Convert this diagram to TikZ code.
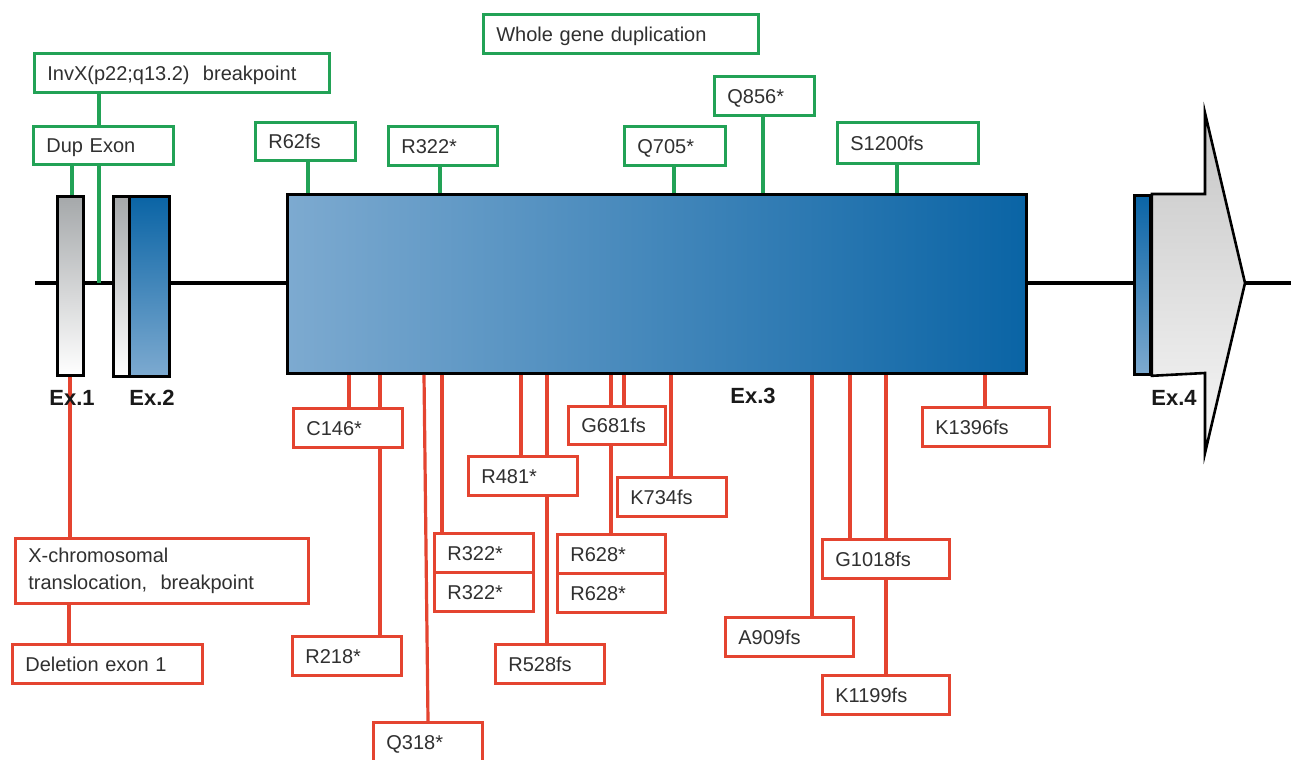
\documentclass[tikz,border=0pt]{standalone}
\usepackage{fontspec}
\setmainfont{Liberation Sans}
\definecolor{grn}{RGB}{34,162,86}
\definecolor{redc}{RGB}{228,68,48}
\definecolor{txt}{RGB}{48,48,48}
\definecolor{exgray}{RGB}{165,168,170}
\definecolor{bluedark}{RGB}{10,100,165}
\definecolor{bluemid}{RGB}{86,140,190}
\definecolor{bluelight}{RGB}{125,170,208}
\newcommand\mbx[7]{%
  \pgfmathsetmacro\mbxw{#5-#3-26}%
  \pgfmathsetmacro\mbxh{#6-#4}%
  \node[#1, text width=\mbxw pt, minimum height=\mbxh pt] (#2) at (#3,#4) {#7};}
\begin{document}
\begin{tikzpicture}[x=1pt,y=-1pt,
  basebox/.style={draw, fill=white, line width=2.7pt, anchor=north west,
    inner xsep=13pt, inner ysep=0pt, align=left,
    font=\fontsize{20}{27}\selectfont, text=txt},
  mbox/.style={basebox, text height=14.5pt, text depth=0pt},
  gb/.style={mbox, draw=grn},
  rb/.style={mbox, draw=redc},
  rbm/.style={basebox, draw=redc},
  gl/.style={draw=grn, line width=3.2pt},
  rl/.style={draw=redc, line width=3.2pt},
  exonn/.style={draw=black, line width=2.8pt, anchor=north west, inner sep=0pt},
  exlab/.style={font=\fontsize{22}{24}\selectfont\bfseries, text=black!90, inner sep=0pt}]
\useasboundingbox (0,0) rectangle (1291,760);
% backbone
\coordinate (bbL) at (35,283);
\coordinate (bbR) at (1291,283);
\draw[line width=3.6pt] (bbL) -- (bbR);
% exons
\node[exonn, minimum width=26pt, minimum height=179pt, top color=exgray, bottom color=white] (ex1) at (56,195) {};
\node[exonn, minimum width=16pt, minimum height=180pt, top color=exgray, bottom color=white] (ex2a) at (112,195) {};
\node[exonn, minimum width=40pt, minimum height=180pt, top color=bluedark, bottom color=bluelight] (ex2) at (128,195) {};
\node[exonn, minimum width=739pt, minimum height=179pt, left color=bluelight, middle color=bluemid, right color=bluedark] (ex3) at (286,193) {};
\node[exonn, minimum width=16pt, minimum height=179pt, top color=bluedark, bottom color=bluelight] (ex4) at (1133,194) {};
\draw[line width=2.6pt, line join=miter, top color=gray!45, bottom color=gray!6]
  (ex4.north east) -- (1205,194) -- (1205,113) -- (1245,283) -- (1205,453)
  -- (1205,373) -- (ex4.south east) -- cycle;
% green boxes
\mbx{gb}{invx}{33}{52}{328}{91}{InvX(p22;q13.2)\ \ breakpoint}
\mbx{gb}{dup}{32}{125}{172}{163}{Dup Exon}
\mbx{gb}{r62}{254}{121}{354}{159}{R62fs}
\mbx{gb}{r322g}{387}{125}{496}{164}{R322*}
\mbx{gb}{whole}{482}{13}{757}{52}{Whole gene duplication}
\mbx{gb}{q705}{623}{125}{724}{164}{Q705*}
\mbx{gb}{q856}{713}{75}{813}{114}{Q856*}
\mbx{gb}{s1200}{836}{121}{977}{162}{S1200fs}
% green connectors
\draw[gl] (invx.south -| 99,0) -- (dup.north -| 99,0);
\draw[gl] (dup.south -| 72,0) -- (ex1.north -| 72,0);
\draw[gl] (dup.south -| 99,0) -- (bbL -| 99,0);
\draw[gl] (r62.south -| 308,0) -- (ex3.north -| 308,0);
\draw[gl] (r322g.south -| 440,0) -- (ex3.north -| 440,0);
\draw[gl] (q705.south -| 674,0) -- (ex3.north -| 674,0);
\draw[gl] (q856.south -| 763,0) -- (ex3.north -| 763,0);
\draw[gl] (s1200.south -| 897,0) -- (ex3.north -| 897,0);
% red connectors (under the boxes)
\coordinate (xct) at (70,537);
\coordinate (c146t) at (349,407);
\coordinate (r218t) at (380,635);
\coordinate (q318t) at (428,721);
\coordinate (r322t) at (442,532);
\coordinate (r481t) at (521,455);
\coordinate (r528t) at (547,643);
\coordinate (r628t) at (611,533);
\coordinate (g681t) at (624,405);
\coordinate (k734t) at (671,476);
\coordinate (a909t) at (812,616);
\coordinate (g1018t) at (850,538);
\coordinate (k1199t) at (886,674);
\coordinate (k1396t) at (985,406);
\draw[rl] (ex1.south -| xct) -- (xct);
\draw[rl] (ex3.south -| c146t) -- (c146t);
\draw[rl] (ex3.south -| r218t) -- (r218t);
\draw[rl] (ex3.south -| 424,0) -- (q318t);
\draw[rl] (ex3.south -| r322t) -- (r322t);
\draw[rl] (ex3.south -| r481t) -- (r481t);
\draw[rl] (ex3.south -| r528t) -- (r528t);
\draw[rl] (ex3.south -| r628t) -- (r628t);
\draw[rl] (ex3.south -| g681t) -- (g681t);
\draw[rl] (ex3.south -| k734t) -- (k734t);
\draw[rl] (ex3.south -| a909t) -- (a909t);
\draw[rl] (ex3.south -| g1018t) -- (g1018t);
\draw[rl] (ex3.south -| k1199t) -- (k1199t);
\draw[rl] (ex3.south -| k1396t) -- (k1396t);
% red boxes
\mbx{rbm}{xchrom}{14}{537}{307}{602}{X-chromosomal\\translocation,\ \ breakpoint}
\mbx{rb}{del}{11}{643}{201}{682}{Deletion exon 1}
\draw[rl] (xchrom.south -| 69,0) -- (del.north -| 69,0);
\mbx{rb}{c146}{292}{407}{401}{446}{C146*}
\mbx{rb}{r218}{291}{635}{400}{674}{R218*}
\mbx{rb}{q318}{372}{721}{481}{760}{Q318*}
\mbx{rb}{r322a}{433}{532}{532}{571}{R322*}
\mbx{rb}{r322b}{433}{571}{532}{610}{R322*}
\mbx{rb}{r481}{467}{455}{576}{494}{R481*}
\mbx{rb}{r528}{494}{643}{603}{682}{R528fs}
\mbx{rb}{g681}{567}{405}{664}{443}{G681fs}
\mbx{rb}{r628a}{556}{533}{664}{572}{R628*}
\mbx{rb}{r628b}{556}{572}{664}{611}{R628*}
\mbx{rb}{k734}{616}{476}{725}{515}{K734fs}
\mbx{rb}{a909}{724}{616}{852}{655}{A909fs}
\mbx{rb}{g1018}{821}{538}{948}{577}{G1018fs}
\mbx{rb}{k1199}{821}{674}{948}{713}{K1199fs}
\mbx{rb}{k1396}{921}{406}{1048}{445}{K1396fs}
% exon labels
\node[exlab] (l1) at (72,398) {Ex.1};
\node[exlab] (l2) at (152,398) {Ex.2};
\node[exlab] (l3) at (753,396) {Ex.3};
\node[exlab] (l4) at (1174,398) {Ex.4};
\end{tikzpicture}
\end{document}
